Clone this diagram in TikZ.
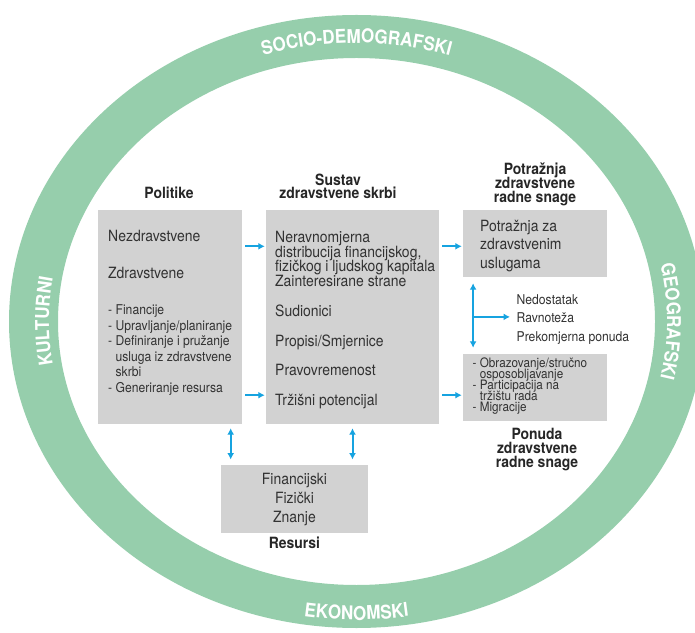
\documentclass[tikz,border=0pt]{standalone}
\usepackage{fontspec}
\setmainfont{TeX Gyre Heros}[FakeStretch=0.9]
\usetikzlibrary{arrows.meta,decorations.text}
\definecolor{ringgreen}{RGB}{150,206,172}
\definecolor{boxgray}{RGB}{210,210,210}
\definecolor{arrblue}{RGB}{22,163,224}
\definecolor{txtgray}{RGB}{50,50,50}
\newcommand\setfs[2]{\fontsize{#1}{#2}\selectfont\lineskiplimit=-\maxdimen}

\begin{document}
\begin{tikzpicture}[x=1pt,y=1pt,>={Latex[length=6.5pt,width=7pt]},
    box/.style={fill=boxgray,inner sep=0},
    txt/.style={text=txtgray,inner sep=0,align=left,font=\setfs{15.5}{14.6}},
    sml/.style={txt,font=\setfs{13.5}{15.5}},
    ttl/.style={text=black!85,inner sep=0,align=center,font=\bfseries\setfs{15.5}{13.7}},
    arr/.style={->,arrblue,line width=2pt},
    dbl/.style={<->,arrblue,line width=2pt},
    ringlbl/.style={decorate,decoration={text along path,text align=center,text color=white,
        text={|\bfseries\setfs{19}{19}|#1}}}]
      \useasboundingbox (0,0) rectangle (695,632);
      \coordinate (C) at (356.5,310.5);
      \fill[ringgreen,even odd rule] (C) ellipse[x radius=347.5,y radius=306.5] (C) ellipse[x radius=298.5,y radius=263.5];
      \path[ringlbl=SOCIO-DEMOGRAFSKI] (C) ++(135:315.6 and 278.5) arc[start angle=135,end angle=45,x radius=315.6,y radius=278.5];
      \path[ringlbl=EKONOMSKI] (C) ++(230:338 and 298.5) arc[start angle=230,end angle=310,x radius=338,y radius=298.5];
      \path[ringlbl=KULTURNI] (C) ++(210:307.5 and 271) arc[start angle=210,end angle=150,x radius=307.5,y radius=271];
      \path[ringlbl=GEOGRAFSKI] (C) ++(30:310.5 and 274) arc[start angle=30,end angle=-30,x radius=310.5,y radius=274];

      \node[box,minimum width=144pt,minimum height=214pt] (pol) at (170,315) {};
      \node[box,minimum width=173pt,minimum height=214pt] (sus) at (352.5,315) {};
      \node[box,minimum width=144pt,minimum height=67pt] (dem) at (535,388.5) {};
      \node[box,minimum width=144pt,minimum height=67pt] (sup) at (535,244.5) {};
      \node[box,minimum width=147pt,minimum height=68pt] (res) at (294.5,133.25) {};

      \node[ttl,anchor=base] (polttl) at (169,433) {Politike};
      \node[ttl,anchor=north] (susttl) at (338,458.6) {Sustav\\zdravstvene skrbi};
      \node[ttl,anchor=north] (demttl) at (535,469) {Potražnja\\zdravstvene\\radne snage};
      \node[ttl,anchor=north] (supttl) at (537,203.6) {Ponuda\\zdravstvene\\radne snage};
      \node[ttl,anchor=base] (resttl) at (294.5,83.4) {Resursi};

      \node[txt,anchor=base west] (nez) at (108,390.5) {Nezdravstvene};
      \node[txt,anchor=base west] (zdr) at (108,353.5) {Zdravstvene};
      \node[sml,anchor=north west] (polsub) at (108,327.2) {- Financije\\- Upravljanje/planiranje\\- Definiranje i pružanje\\\hphantom{- }usluga iz zdravstvene\\\hphantom{- }skrbi\\- Generiranje resursa};
      \node[txt,anchor=north west] (neravn) at (275,400.7) {Neravnomjerna\\distribucija financijskog,\\fizičkog i ljudskog kapitala\\Zainteresirane strane};
      \node[txt,anchor=base west] (sud) at (275,315.4) {Sudionici};
      \node[txt,anchor=base west] (prop) at (275,285.4) {Propisi/Smjernice};
      \node[txt,anchor=base west] (pravo) at (275,256.4) {Pravovremenost};
      \node[txt,anchor=base west] (trz) at (275,226.4) {Tržišni potencijal};
      \node[txt,anchor=north west,font=\setfs{15.5}{18.5}] (usl) at (480,412.1) {Potražnja za\\zdravstvenim\\uslugama};
      \node[sml,anchor=north west,font=\setfs{13}{11.2}] (obr) at (472.5,274.8) {- Obrazovanje/stručno\\\hphantom{- }osposobljavanje\\- Participacija na\\\hphantom{- }tržištu rada\\- Migracije};
      \node[sml,anchor=north west,font=\setfs{13.5}{18.5}] (bal) at (516.5,338) {Nedostatak\\Ravnoteža\\Prekomjerna ponuda};
      \node[txt,anchor=north,align=center,font=\setfs{15.5}{19}] (fiz) at (294.5,158.7) {Financijski\\Fizički\\Znanje};

      \draw[arr,shorten <=3pt,shorten >=1pt] ([yshift=-36.5]pol.north east) -- ([yshift=-36.5]sus.north west);
      \draw[arr,shorten <=3pt,shorten >=1pt] ([yshift=29]pol.south east) -- ([yshift=29]sus.south west);
      \draw[arr,shorten <=3pt,shorten >=1pt] ([yshift=-36.5]sus.north east) -- ([yshift=-36.5]dem.north west);
      \draw[arr,shorten <=3pt,shorten >=1pt] ([yshift=29]sus.south east) -- ([yshift=29]sus.south east -| sup.west);
      \draw[dbl,shorten <=6pt,shorten >=6pt] ([xshift=10.3]dem.south west) -- ([xshift=10.3]sup.north west);
      \coordinate (fork) at ([xshift=10.3,yshift=-39.7]dem.south west);
      \draw[arr,shorten >=6.5pt] (fork) -- (fork -| bal.west);
      \draw[dbl,shorten <=4pt,shorten >=5pt] ([xshift=-11.5]pol.south east) -- ([xshift=-11.5]pol.south east |- res.north);
      \draw[dbl,shorten <=4pt,shorten >=5pt] (sus.south) -- (sus.south |- res.north);
    \end{tikzpicture}
\end{document}
